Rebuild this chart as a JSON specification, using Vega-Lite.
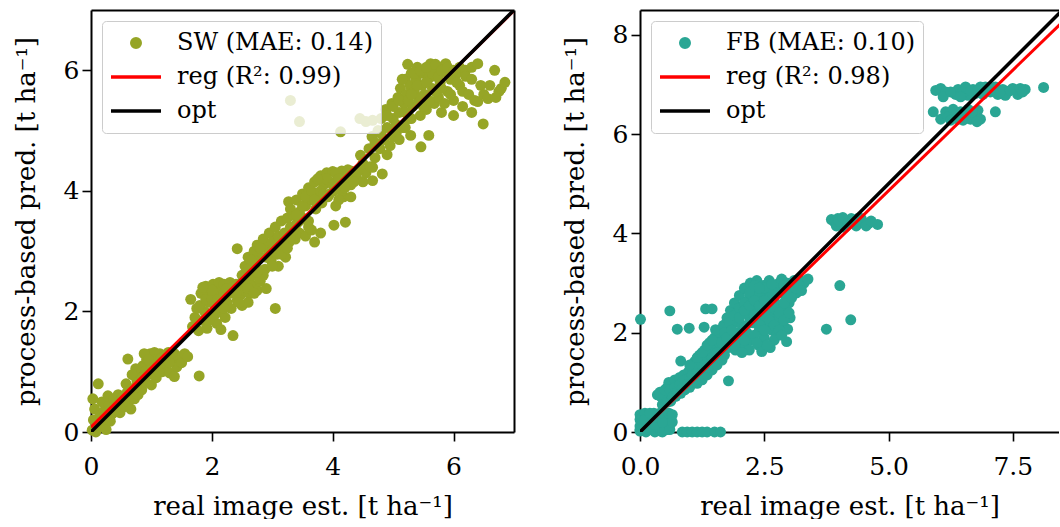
{
  "$schema": "https://vega.github.io/schema/vega-lite/v6.json",
  "padding": {"left": 13, "top": 10, "right": 0, "bottom": 0},
  "background": "white",
  "config": {
    "font": "DejaVu Serif",
    "view": {"stroke": null},
    "axis": {"grid": false, "domainColor": "black", "domainWidth": 2, "tickColor": "black", "tickWidth": 1.6, "tickSize": 9, "labelColor": "black", "labelFontSize": 25, "labelFont": "DejaVu Serif", "titleColor": "black", "titleFontSize": 26, "titleFont": "DejaVu Serif", "titleFontWeight": "normal", "labelFlush": false, "labelOverlap": false},
    "axisX": {"labelPadding": 13, "titlePadding": 14},
    "axisY": {"labelPadding": 3, "titlePadding": 24},
    "legend": {"orient": "top-left", "offset": 11, "title": null, "symbolType": "stroke", "symbolSize": 2500, "symbolStrokeWidth": 3.5, "labelFont": "DejaVu Serif", "labelFontSize": 24, "labelColor": "black", "labelLimit": 400, "labelOffset": 14, "padding": 7, "rowPadding": 4, "clipHeight": 30, "strokeColor": "#cccccc", "fillColor": "rgba(255,255,255,0.8)", "cornerRadius": 4}
  },
  "datasets": {
    "sw": [
      {"x":0.02,"y":0.03},{"x":0.04,"y":0.2},{"x":0.06,"y":0.38},{"x":0.03,"y":0.55},{"x":0.12,"y":0.8},{"x":0.1,"y":0.1},{"x":0.15,"y":0.28},{"x":0.2,"y":0.12},{"x":0.25,"y":0.04},{"x":0.22,"y":0.35},{"x":0.18,"y":0.5},{"x":0.3,"y":0.45},{"x":0.28,"y":0.6},{"x":0.35,"y":0.3},{"x":0.38,"y":0.55},{"x":0.42,"y":0.42},{"x":0.45,"y":0.62},{"x":0.5,"y":0.5},{"x":0.32,"y":0.18},{"x":0.08,"y":0.0},
      {"x":0.48,"y":0.32},{"x":0.52,"y":0.58},{"x":0.55,"y":0.42},{"x":0.6,"y":0.66},{"x":0.62,"y":0.5},{"x":0.66,"y":0.38},{"x":0.7,"y":0.72},{"x":0.72,"y":0.55},{"x":0.76,"y":0.85},{"x":0.78,"y":0.62},{"x":0.82,"y":0.95},{"x":0.84,"y":0.7},{"x":0.86,"y":1.1},{"x":0.9,"y":0.82},{"x":0.92,"y":1.2},{"x":0.95,"y":0.95},{"x":0.98,"y":1.3},{"x":1.0,"y":0.78},{"x":1.02,"y":1.05},{"x":1.05,"y":1.32},{"x":1.08,"y":0.9},{"x":1.1,"y":1.18},{"x":1.14,"y":1.3},{"x":1.18,"y":1.0},{"x":1.2,"y":1.25},{"x":1.24,"y":1.12},{"x":1.28,"y":1.32},{"x":1.3,"y":0.98},{"x":1.34,"y":1.2},{"x":1.38,"y":1.3},{"x":1.42,"y":1.08},{"x":1.45,"y":1.25},{"x":1.5,"y":1.15},{"x":1.55,"y":1.3},{"x":1.38,"y":0.92},{"x":0.61,"y":1.21},{"x":0.74,"y":1.05},{"x":0.68,"y":0.95},{"x":1.6,"y":1.25},{"x":1.79,"y":0.93},{"x":0.88,"y":1.3},{"x":1.12,"y":1.0},{"x":0.58,"y":0.8},
      {"x":0.65,"y":0.7},{"x":0.8,"y":0.85},{"x":0.9,"y":1.0},{"x":1.0,"y":1.1},{"x":1.1,"y":1.1},{"x":1.2,"y":1.15},{"x":1.3,"y":1.15},{"x":1.05,"y":1.2},{"x":1.15,"y":1.22},{"x":1.25,"y":1.28},{"x":1.35,"y":1.32},{"x":0.75,"y":0.75},{"x":0.85,"y":0.9},{"x":0.95,"y":1.2},
      {"x":1.65,"y":2.2},{"x":1.68,"y":1.75},{"x":1.72,"y":1.9},{"x":1.75,"y":2.05},{"x":1.78,"y":1.68},{"x":1.82,"y":2.3},{"x":1.85,"y":1.85},{"x":1.88,"y":2.0},{"x":1.9,"y":2.42},{"x":1.92,"y":1.72},{"x":1.95,"y":2.15},{"x":1.98,"y":2.3},{"x":2.0,"y":1.95},{"x":2.02,"y":2.45},{"x":2.05,"y":2.1},{"x":2.08,"y":1.8},{"x":2.1,"y":2.35},{"x":2.12,"y":2.48},{"x":2.15,"y":2.0},{"x":2.18,"y":2.25},{"x":2.2,"y":2.45},{"x":2.22,"y":1.9},{"x":2.25,"y":2.15},{"x":2.28,"y":2.38},{"x":2.3,"y":2.48},{"x":2.32,"y":2.05},{"x":2.35,"y":1.6},{"x":2.38,"y":2.3},{"x":2.4,"y":2.45},{"x":2.42,"y":2.18},{"x":2.45,"y":2.4},{"x":2.48,"y":2.28},{"x":2.5,"y":2.48},{"x":2.55,"y":2.35},{"x":2.58,"y":2.45},{"x":2.62,"y":2.3},{"x":2.65,"y":2.45},{"x":2.7,"y":2.4},{"x":2.75,"y":2.35},{"x":2.8,"y":2.5},{"x":2.9,"y":2.38},{"x":3.05,"y":2.05},{"x":2.15,"y":1.7},{"x":2.5,"y":2.1},{"x":2.6,"y":2.15},
      {"x":1.8,"y":2.1},{"x":1.9,"y":2.2},{"x":2.0,"y":2.2},{"x":2.1,"y":2.2},{"x":2.2,"y":2.3},{"x":2.3,"y":2.3},{"x":2.4,"y":2.3},{"x":2.0,"y":2.35},{"x":2.1,"y":2.05},{"x":2.25,"y":2.38},{"x":2.35,"y":2.4},{"x":2.45,"y":2.15},{"x":1.95,"y":1.85},{"x":2.05,"y":1.95},{"x":2.2,"y":2.05},{"x":1.85,"y":2.4},{"x":2.6,"y":2.38},{"x":2.7,"y":2.3},
      {"x":2.42,"y":3.04},{"x":2.5,"y":2.6},{"x":2.55,"y":2.75},{"x":2.6,"y":2.9},{"x":2.65,"y":2.6},{"x":2.7,"y":3.0},{"x":2.72,"y":2.75},{"x":2.75,"y":3.1},{"x":2.78,"y":2.55},{"x":2.8,"y":2.9},{"x":2.85,"y":3.2},{"x":2.88,"y":2.7},{"x":2.9,"y":3.05},{"x":2.95,"y":3.3},{"x":2.98,"y":2.85},{"x":3.0,"y":3.15},{"x":3.05,"y":3.4},{"x":3.08,"y":2.95},{"x":3.1,"y":3.25},{"x":3.15,"y":3.5},{"x":3.18,"y":3.05},{"x":3.2,"y":3.3},{"x":3.22,"y":2.9},{"x":3.25,"y":3.55},{"x":3.28,"y":3.15},{"x":3.3,"y":3.4},{"x":3.35,"y":3.6},{"x":3.38,"y":3.2},{"x":3.4,"y":3.45},{"x":3.45,"y":3.3},{"x":3.5,"y":3.55},{"x":3.55,"y":3.25},{"x":3.6,"y":3.5},{"x":3.65,"y":3.35},{"x":3.7,"y":3.15},{"x":3.8,"y":3.3},{"x":3.27,"y":3.82},{"x":3.1,"y":2.75},
      {"x":2.6,"y":2.7},{"x":2.7,"y":2.85},{"x":2.8,"y":3.05},{"x":2.9,"y":2.9},{"x":3.0,"y":3.0},{"x":3.1,"y":3.1},{"x":3.2,"y":3.2},{"x":3.3,"y":3.25},{"x":2.85,"y":2.6},{"x":3.0,"y":2.75},{"x":3.15,"y":2.95},{"x":3.25,"y":3.05},{"x":3.35,"y":3.35},{"x":3.45,"y":3.5},{"x":2.65,"y":2.85},{"x":2.75,"y":2.65},
      {"x":3.3,"y":3.7},{"x":3.4,"y":3.85},{"x":3.45,"y":3.65},{"x":3.5,"y":3.95},{"x":3.55,"y":3.75},{"x":3.6,"y":4.05},{"x":3.65,"y":3.85},{"x":3.7,"y":4.15},{"x":3.72,"y":3.7},{"x":3.75,"y":3.95},{"x":3.8,"y":4.25},{"x":3.82,"y":3.8},{"x":3.85,"y":4.1},{"x":3.9,"y":4.3},{"x":3.92,"y":3.9},{"x":3.95,"y":4.15},{"x":4.0,"y":4.32},{"x":4.02,"y":4.0},{"x":4.05,"y":3.75},{"x":4.08,"y":4.25},{"x":4.1,"y":4.05},{"x":4.15,"y":4.33},{"x":4.18,"y":3.9},{"x":4.2,"y":4.2},{"x":4.25,"y":4.35},{"x":4.3,"y":4.1},{"x":4.35,"y":4.3},{"x":4.4,"y":4.2},{"x":4.45,"y":4.35},{"x":4.5,"y":4.15},{"x":4.02,"y":3.43},{"x":4.21,"y":3.48},{"x":4.3,"y":3.9},{"x":4.55,"y":4.3},{"x":3.6,"y":3.4},
      {"x":3.4,"y":3.6},{"x":3.5,"y":3.75},{"x":3.55,"y":3.9},{"x":3.65,"y":4.0},{"x":3.7,"y":3.85},{"x":3.8,"y":4.0},{"x":3.9,"y":4.2},{"x":4.0,"y":4.1},{"x":4.05,"y":4.3},{"x":4.1,"y":4.2},{"x":4.15,"y":4.0},{"x":4.25,"y":4.2},{"x":4.3,"y":4.33},{"x":4.35,"y":4.15},{"x":4.4,"y":4.32},{"x":3.85,"y":3.95},{"x":3.95,"y":3.95},{"x":4.1,"y":3.85},{"x":4.2,"y":4.05},{"x":3.75,"y":4.2},
      {"x":4.46,"y":4.59},{"x":4.5,"y":4.45},{"x":4.6,"y":4.7},{"x":4.62,"y":4.4},{"x":4.66,"y":4.39},{"x":4.82,"y":4.28},{"x":4.66,"y":4.17},{"x":4.65,"y":4.9},{"x":4.7,"y":4.55},{"x":4.75,"y":5.0},{"x":4.78,"y":4.7},{"x":4.8,"y":5.2},{"x":4.85,"y":4.85},{"x":4.88,"y":5.35},{"x":4.9,"y":5.05},{"x":4.95,"y":4.75},{"x":4.98,"y":5.45},{"x":5.0,"y":5.2},{"x":5.05,"y":4.95},{"x":5.08,"y":5.55},{"x":5.1,"y":5.3},{"x":5.12,"y":5.7},{"x":5.15,"y":5.05},{"x":5.18,"y":5.45},{"x":5.2,"y":5.85},{"x":5.22,"y":5.6},{"x":5.24,"y":6.1},{"x":5.25,"y":5.2},{"x":5.28,"y":5.75},{"x":5.3,"y":5.95},{"x":5.32,"y":5.4},{"x":5.35,"y":5.65},{"x":5.38,"y":5.85},{"x":5.4,"y":6.05},{"x":5.42,"y":5.5},{"x":5.45,"y":5.25},{"x":5.46,"y":4.73},{"x":5.48,"y":5.75},{"x":5.5,"y":5.95},{"x":5.52,"y":5.6},{"x":5.55,"y":5.35},{"x":5.58,"y":5.85},{"x":5.59,"y":4.92},{"x":5.29,"y":4.92},{"x":5.6,"y":6.05},{"x":5.62,"y":6.11},{"x":5.65,"y":5.7},{"x":5.68,"y":5.45},{"x":5.7,"y":5.9},{"x":5.72,"y":6.0},{"x":5.75,"y":5.55},{"x":5.78,"y":5.8},{"x":5.8,"y":5.3},{"x":5.85,"y":6.08},{"x":5.87,"y":6.11},{"x":5.9,"y":5.65},{"x":5.95,"y":5.85},{"x":6.0,"y":5.5},{"x":6.05,"y":5.95},{"x":6.1,"y":5.75},
      {"x":4.7,"y":4.8},{"x":4.8,"y":4.95},{"x":4.9,"y":5.25},{"x":5.0,"y":5.4},{"x":5.05,"y":5.1},{"x":5.1,"y":5.5},{"x":5.15,"y":5.85},{"x":5.2,"y":5.3},{"x":5.25,"y":5.5},{"x":5.3,"y":5.2},{"x":5.35,"y":5.95},{"x":5.4,"y":5.75},{"x":5.45,"y":5.55},{"x":5.5,"y":5.4},{"x":5.55,"y":5.8},{"x":5.6,"y":5.5},{"x":5.65,"y":5.95},{"x":5.7,"y":5.65},{"x":5.75,"y":5.9},{"x":5.8,"y":5.7},{"x":5.85,"y":5.45},{"x":5.9,"y":5.95},{"x":5.95,"y":5.6},{"x":5.0,"y":4.9},{"x":4.9,"y":4.6},{"x":5.1,"y":4.85},{"x":5.2,"y":5.05},{"x":5.3,"y":5.6},{"x":5.45,"y":6.0},{"x":5.55,"y":6.05},{"x":5.7,"y":6.1},{"x":5.8,"y":6.0},{"x":5.9,"y":6.05},{"x":6.0,"y":6.0},{"x":6.1,"y":6.05},{"x":6.2,"y":6.0},{"x":6.3,"y":6.05},{"x":6.05,"y":5.8},{"x":6.15,"y":5.65},
      {"x":3.3,"y":5.5},{"x":3.45,"y":5.15},{"x":4.45,"y":5.2},{"x":4.55,"y":5.15},{"x":4.66,"y":5.17},{"x":4.13,"y":4.98},
      {"x":6.15,"y":5.4},{"x":6.2,"y":5.9},{"x":6.25,"y":5.6},{"x":6.3,"y":5.85},{"x":6.35,"y":5.5},{"x":6.4,"y":6.11},{"x":6.4,"y":5.48},{"x":6.45,"y":5.75},{"x":6.49,"y":5.11},{"x":6.5,"y":5.6},{"x":6.57,"y":5.53},{"x":6.6,"y":5.75},{"x":6.68,"y":6.0},{"x":6.7,"y":5.55},{"x":6.75,"y":5.65},{"x":6.79,"y":5.7},{"x":6.85,"y":5.8},{"x":6.3,"y":5.3},{"x":6.0,"y":5.25}
    ],
    "fb": [
      {"x":0,"y":0.02},{"x":0,"y":0.12},{"x":0,"y":0.25},{"x":0,"y":0.35},{"x":0.05,"y":0.05},{"x":0.06,"y":0.3},{"x":0.1,"y":0.15},{"x":0.12,"y":0.0},{"x":0.15,"y":0.35},{"x":0.18,"y":0.22},{"x":0.2,"y":0.05},{"x":0.22,"y":0.32},{"x":0.25,"y":0.12},{"x":0.28,"y":0.38},{"x":0.3,"y":0.0},{"x":0.32,"y":0.25},{"x":0.35,"y":0.1},{"x":0.38,"y":0.35},{"x":0.4,"y":0.18},{"x":0.42,"y":0.02},{"x":0.45,"y":0.3},{"x":0.48,"y":0.12},{"x":0.5,"y":0.38},{"x":0.52,"y":0.22},{"x":0.55,"y":0.05},{"x":0.58,"y":0.32},{"x":0.6,"y":0.15},{"x":0.62,"y":0.28},{"x":0.35,"y":0.32},{"x":0.1,"y":0.38},{"x":0.45,"y":0.0},{"x":0.25,"y":0.25},
      {"x":0.05,"y":0.2},{"x":0.15,"y":0.1},{"x":0.2,"y":0.3},{"x":0.3,"y":0.15},{"x":0.4,"y":0.3},{"x":0.5,"y":0.05},{"x":0.55,"y":0.3},{"x":0.6,"y":0.05},{"x":0.65,"y":0.2},{"x":0.0,"y":0.05},{"x":0.1,"y":0.25},{"x":0.3,"y":0.3},{"x":0.45,"y":0.2},{"x":0.2,"y":0.38},{"x":0.4,"y":0.38},{"x":0.58,"y":0.38},{"x":0.65,"y":0.35},
      {"x":0.85,"y":0.0},{"x":0.95,"y":0.0},{"x":1.05,"y":0.0},{"x":1.15,"y":0.0},{"x":1.25,"y":0.0},{"x":1.35,"y":0.0},{"x":1.5,"y":0.0},{"x":1.62,"y":0.0},{"x":0.01,"y":2.27},
      {"x":0.35,"y":0.75},{"x":0.42,"y":0.72},{"x":0.5,"y":0.68},{"x":0.55,"y":0.9},{"x":0.58,"y":1.0},{"x":0.62,"y":0.62},{"x":0.65,"y":0.8},{"x":0.7,"y":1.05},{"x":0.72,"y":0.72},{"x":0.75,"y":0.92},{"x":0.8,"y":1.1},{"x":0.82,"y":0.78},{"x":0.85,"y":1.0},{"x":0.88,"y":1.15},{"x":0.9,"y":0.85},{"x":0.95,"y":1.05},{"x":0.98,"y":1.22},{"x":1.0,"y":0.9},{"x":1.05,"y":1.3},{"x":1.08,"y":1.0},{"x":1.1,"y":1.42},{"x":1.12,"y":1.12},{"x":1.15,"y":0.98},{"x":1.18,"y":1.3},{"x":1.2,"y":1.55},{"x":1.22,"y":1.2},{"x":1.25,"y":1.05},{"x":1.28,"y":1.4},{"x":1.3,"y":1.65},{"x":1.32,"y":1.3},{"x":1.35,"y":1.15},{"x":1.38,"y":1.5},{"x":1.4,"y":1.8},{"x":1.42,"y":1.4},{"x":1.45,"y":1.25},{"x":1.48,"y":1.62},{"x":1.5,"y":1.9},{"x":1.52,"y":1.5},{"x":1.55,"y":1.35},{"x":1.58,"y":1.72},{"x":1.6,"y":2.0},{"x":1.62,"y":1.6},{"x":0.82,"y":1.43},{"x":1.78,"y":1.03},{"x":0.6,"y":2.44},{"x":0.75,"y":2.07},{"x":0.99,"y":2.09},{"x":1.32,"y":2.48},{"x":1.45,"y":2.48},{"x":1.29,"y":2.11},{"x":1.52,"y":2.06},
      {"x":0.4,"y":0.8},{"x":0.5,"y":0.85},{"x":0.6,"y":0.85},{"x":0.7,"y":0.9},{"x":0.8,"y":0.95},{"x":0.9,"y":1.05},{"x":1.0,"y":1.1},{"x":1.1,"y":1.2},{"x":1.2,"y":1.35},{"x":1.3,"y":1.45},{"x":1.4,"y":1.6},{"x":1.5,"y":1.7},{"x":1.6,"y":1.8},{"x":0.45,"y":0.55},{"x":0.55,"y":0.6},{"x":0.65,"y":0.7},{"x":0.75,"y":0.8},{"x":0.85,"y":0.88},{"x":0.95,"y":0.95},{"x":1.05,"y":1.15},{"x":1.15,"y":1.25},{"x":1.25,"y":1.35},{"x":1.35,"y":1.3},{"x":1.45,"y":1.5},{"x":1.55,"y":1.6},{"x":1.65,"y":1.45},{"x":1.7,"y":1.75},{"x":1.0,"y":1.35},{"x":1.15,"y":1.5},{"x":1.25,"y":1.6},{"x":1.35,"y":1.75},{"x":1.45,"y":1.85},
      {"x":1.65,"y":1.8},{"x":1.68,"y":2.15},{"x":1.7,"y":1.55},{"x":1.72,"y":1.95},{"x":1.75,"y":2.3},{"x":1.78,"y":1.7},{"x":1.8,"y":2.05},{"x":1.82,"y":2.45},{"x":1.85,"y":1.85},{"x":1.88,"y":2.2},{"x":1.9,"y":2.6},{"x":1.92,"y":1.65},{"x":1.95,"y":2.0},{"x":1.98,"y":2.4},{"x":2.0,"y":2.75},{"x":2.02,"y":1.8},{"x":2.05,"y":2.15},{"x":2.08,"y":2.55},{"x":2.1,"y":2.9},{"x":2.12,"y":1.7},{"x":2.15,"y":2.0},{"x":2.18,"y":2.35},{"x":2.2,"y":2.7},{"x":2.22,"y":3.0},{"x":2.25,"y":1.85},{"x":2.28,"y":2.2},{"x":2.3,"y":2.5},{"x":2.32,"y":2.85},{"x":2.35,"y":3.05},{"x":2.38,"y":1.75},{"x":2.4,"y":2.05},{"x":2.42,"y":2.35},{"x":2.45,"y":2.65},{"x":2.48,"y":2.95},{"x":2.5,"y":1.9},{"x":2.52,"y":2.2},{"x":2.55,"y":2.5},{"x":2.58,"y":2.8},{"x":2.6,"y":3.05},{"x":2.62,"y":1.7},{"x":2.65,"y":2.05},{"x":2.68,"y":2.35},{"x":2.7,"y":2.65},{"x":2.72,"y":2.95},{"x":2.75,"y":1.95},{"x":2.78,"y":2.25},{"x":2.8,"y":2.55},{"x":2.82,"y":2.85},{"x":2.85,"y":3.08},{"x":2.88,"y":2.15},{"x":2.9,"y":2.45},{"x":2.92,"y":2.75},{"x":2.95,"y":3.0},{"x":2.95,"y":1.82},{"x":2.97,"y":2.07},{"x":3.0,"y":2.6},{"x":3.05,"y":2.9},{"x":3.1,"y":3.05},{"x":3.15,"y":2.8},{"x":3.2,"y":3.08},{"x":3.3,"y":3.0},{"x":3.38,"y":3.08},{"x":2.2,"y":1.65},{"x":2.45,"y":1.62},{"x":3.02,"y":2.3},{"x":2.05,"y":1.6},
      {"x":1.7,"y":2.0},{"x":1.8,"y":2.2},{"x":1.9,"y":2.35},{"x":2.0,"y":2.5},{"x":2.1,"y":2.6},{"x":2.2,"y":2.8},{"x":2.3,"y":2.95},{"x":2.4,"y":2.75},{"x":2.5,"y":2.9},{"x":2.6,"y":2.7},{"x":2.7,"y":2.85},{"x":2.8,"y":3.0},{"x":2.9,"y":2.95},{"x":3.0,"y":2.95},{"x":3.1,"y":2.9},{"x":3.2,"y":2.95},{"x":2.0,"y":2.3},{"x":2.1,"y":2.45},{"x":2.2,"y":2.55},{"x":2.3,"y":2.65},{"x":2.4,"y":2.55},{"x":2.5,"y":2.65},{"x":2.6,"y":2.45},{"x":2.7,"y":2.5},{"x":2.8,"y":2.4},{"x":2.9,"y":2.6},{"x":2.0,"y":1.9},{"x":2.1,"y":2.1},{"x":2.2,"y":2.2},{"x":2.3,"y":2.35},{"x":2.4,"y":2.2},{"x":2.5,"y":2.35},{"x":2.6,"y":2.25},{"x":2.7,"y":2.15},{"x":2.8,"y":2.05},{"x":2.9,"y":2.25},{"x":1.9,"y":1.75},{"x":2.1,"y":1.85},{"x":2.3,"y":1.95},{"x":2.5,"y":2.05},{"x":2.7,"y":1.85},{"x":2.85,"y":1.95},{"x":1.75,"y":1.9},{"x":1.85,"y":2.05},{"x":2.4,"y":2.9},{"x":2.65,"y":2.98},{"x":2.95,"y":2.8},{"x":3.0,"y":2.4},{"x":3.25,"y":2.85},{"x":2.55,"y":1.75},{"x":2.35,"y":1.8},
      {"x":4.02,"y":2.95},{"x":3.75,"y":2.07},{"x":4.24,"y":2.26},{"x":3.05,"y":2.7},
      {"x":3.85,"y":4.28},{"x":3.92,"y":4.22},{"x":3.98,"y":4.3},{"x":4.05,"y":4.18},{"x":4.1,"y":4.28},{"x":4.15,"y":4.15},{"x":4.2,"y":4.25},{"x":4.25,"y":4.3},{"x":4.3,"y":4.2},{"x":4.35,"y":4.15},{"x":4.4,"y":4.25},{"x":4.5,"y":4.22},{"x":4.6,"y":4.2},{"x":4.78,"y":4.18},{"x":4.12,"y":4.12},{"x":4.45,"y":4.3},{"x":3.95,"y":4.15},{"x":4.0,"y":4.25},{"x":4.08,"y":4.32},{"x":4.18,"y":4.2},{"x":4.28,"y":4.25},{"x":4.38,"y":4.3},{"x":4.55,"y":4.15},{"x":4.65,"y":4.25},
      {"x":5.95,"y":6.88},{"x":6.05,"y":6.92},{"x":6.15,"y":6.85},{"x":6.35,"y":6.8},{"x":6.4,"y":6.9},{"x":6.5,"y":6.85},{"x":6.55,"y":6.95},{"x":6.6,"y":6.78},{"x":6.7,"y":6.9},{"x":6.75,"y":6.82},{"x":6.85,"y":6.95},{"x":6.9,"y":6.8},{"x":7.0,"y":6.9},{"x":7.05,"y":6.85},{"x":7.15,"y":6.95},{"x":7.2,"y":6.8},{"x":7.3,"y":6.9},{"x":7.4,"y":6.85},{"x":7.5,"y":6.92},{"x":7.6,"y":6.8},{"x":7.75,"y":6.9},{"x":8.12,"y":6.94},{"x":6.45,"y":6.75},{"x":6.95,"y":6.95},{"x":7.35,"y":6.78},{"x":6.1,"y":6.75},{"x":6.25,"y":6.85},{"x":6.65,"y":6.88},{"x":6.8,"y":6.88},{"x":7.1,"y":6.9},{"x":7.25,"y":6.85},{"x":7.45,"y":6.88},{"x":7.65,"y":6.92},{"x":7.7,"y":6.85},
      {"x":5.9,"y":6.45},{"x":6.05,"y":6.3},{"x":6.15,"y":6.45},{"x":6.2,"y":6.35},{"x":6.3,"y":6.5},{"x":6.4,"y":6.3},{"x":6.45,"y":6.45},{"x":6.5,"y":6.28},{"x":6.55,"y":6.4},{"x":6.6,"y":6.5},{"x":6.65,"y":6.3},{"x":6.7,"y":6.42},{"x":6.75,"y":6.35},{"x":6.8,"y":6.48},{"x":6.85,"y":6.3},{"x":7.15,"y":6.45},{"x":6.35,"y":6.38},{"x":6.58,"y":6.32},{"x":6.68,"y":6.45},{"x":6.78,"y":6.25},{"x":6.25,"y":6.28}
    ]
  },
  "hconcat": [
    {
      "width": 423,
      "height": 422,
      "layer": [
        {
          "data": {"name": "sw"},
          "mark": {"type": "circle", "size": 120, "opacity": 1},
          "encoding": {
            "x": {"field": "x", "type": "quantitative", "scale": {"domain": [0, 7], "nice": false}, "axis": {"orient": "bottom", "values": [0, 2, 4, 6], "title": "real image est. [t ha⁻¹]"}},
            "y": {"field": "y", "type": "quantitative", "scale": {"domain": [0, 7], "nice": false}, "axis": {"orient": "left", "values": [0, 2, 4, 6], "title": "process-based pred. [t ha⁻¹]"}},
            "color": {
              "datum": "SW (MAE: 0.14)", "type": "nominal",
              "scale": {"domain": ["SW (MAE: 0.14)", "reg (R²: 0.99)", "opt"], "range": ["#96a526", "#ff0000", "#000000"]},
              "legend": {
                "encode": {"symbols": {"update": {
                  "shape": {"signal": "indexof(datum.value, 'MAE') >= 0 ? 'M -0.17 0 A 0.17 0.17 0 1 0 0.17 0 A 0.17 0.17 0 1 0 -0.17 0 Z' : 'stroke'"},
                  "fill": {"signal": "indexof(datum.value, 'MAE') >= 0 ? '#96a526' : 'transparent'"},
                  "stroke": {"signal": "indexof(datum.value, 'MAE') >= 0 ? 'transparent' : (datum.value == 'opt' ? '#000000' : '#ff0000')"},
                  "opacity": {"value": 1}
                }}}
              }
            }
          }
        },
        {
          "data": {"values": [{"x": 0, "y": 0.08}, {"x": 7, "y": 6.99}]},
          "mark": {"type": "line", "strokeWidth": 3, "clip": true},
          "encoding": {
            "x": {"field": "x", "type": "quantitative", "scale": {"domain": [0, 7], "nice": false}, "axis": {"orient": "top", "labels": false, "ticks": false, "title": null}},
            "y": {"field": "y", "type": "quantitative", "scale": {"domain": [0, 7], "nice": false}, "axis": {"orient": "right", "labels": false, "ticks": false, "title": null}},
            "color": {
              "datum": "reg (R²: 0.99)", "type": "nominal",
              "legend": {
                "encode": {"symbols": {"update": {
                  "shape": {"signal": "indexof(datum.value, 'MAE') >= 0 ? 'M -0.17 0 A 0.17 0.17 0 1 0 0.17 0 A 0.17 0.17 0 1 0 -0.17 0 Z' : 'stroke'"},
                  "fill": {"signal": "indexof(datum.value, 'MAE') >= 0 ? '#96a526' : 'transparent'"},
                  "stroke": {"signal": "indexof(datum.value, 'MAE') >= 0 ? 'transparent' : (datum.value == 'opt' ? '#000000' : '#ff0000')"},
                  "opacity": {"value": 1}
                }}}
              }
            }
          }
        },
        {
          "data": {"values": [{"x": 0, "y": 0}, {"x": 7, "y": 7}]},
          "mark": {"type": "line", "strokeWidth": 3.5, "clip": true},
          "encoding": {
            "x": {"field": "x", "type": "quantitative", "scale": {"domain": [0, 7], "nice": false}, "axis": null},
            "y": {"field": "y", "type": "quantitative", "scale": {"domain": [0, 7], "nice": false}, "axis": null},
            "color": {
              "datum": "opt", "type": "nominal",
              "legend": {
                "encode": {"symbols": {"update": {
                  "shape": {"signal": "indexof(datum.value, 'MAE') >= 0 ? 'M -0.17 0 A 0.17 0.17 0 1 0 0.17 0 A 0.17 0.17 0 1 0 -0.17 0 Z' : 'stroke'"},
                  "fill": {"signal": "indexof(datum.value, 'MAE') >= 0 ? '#96a526' : 'transparent'"},
                  "stroke": {"signal": "indexof(datum.value, 'MAE') >= 0 ? 'transparent' : (datum.value == 'opt' ? '#000000' : '#ff0000')"},
                  "opacity": {"value": 1}
                }}}
              }
            }
          }
        }
      ],
      "resolve": {"axis": {"x": "independent", "y": "independent"}}
    },
    {
      "width": 419,
      "height": 422,
      "layer": [
        {
          "data": {"name": "fb"},
          "mark": {"type": "circle", "size": 120, "opacity": 1},
          "encoding": {
            "x": {"field": "x", "type": "quantitative", "scale": {"domain": [0, 8.43], "nice": false}, "axis": {"orient": "bottom", "values": [0, 2.5, 5, 7.5], "format": ".1f", "title": "real image est. [t ha⁻¹]"}},
            "y": {"field": "y", "type": "quantitative", "scale": {"domain": [0, 8.5], "nice": false}, "axis": {"orient": "left", "values": [0, 2, 4, 6, 8], "title": "process-based pred. [t ha⁻¹]"}},
            "color": {
              "datum": "FB (MAE: 0.10)", "type": "nominal",
              "scale": {"domain": ["FB (MAE: 0.10)", "reg (R²: 0.98)", "opt"], "range": ["#2aa694", "#ff0000", "#000000"]},
              "legend": {
                "encode": {"symbols": {"update": {
                  "shape": {"signal": "indexof(datum.value, 'MAE') >= 0 ? 'M -0.17 0 A 0.17 0.17 0 1 0 0.17 0 A 0.17 0.17 0 1 0 -0.17 0 Z' : 'stroke'"},
                  "fill": {"signal": "indexof(datum.value, 'MAE') >= 0 ? '#2aa694' : 'transparent'"},
                  "stroke": {"signal": "indexof(datum.value, 'MAE') >= 0 ? 'transparent' : (datum.value == 'opt' ? '#000000' : '#ff0000')"},
                  "opacity": {"value": 1}
                }}}
              }
            }
          }
        },
        {
          "data": {"values": [{"x": 0, "y": 0.0}, {"x": 8.5, "y": 8.26}]},
          "mark": {"type": "line", "strokeWidth": 3, "clip": true},
          "encoding": {
            "x": {"field": "x", "type": "quantitative", "scale": {"domain": [0, 8.43], "nice": false}, "axis": {"orient": "top", "labels": false, "ticks": false, "title": null}},
            "y": {"field": "y", "type": "quantitative", "scale": {"domain": [0, 8.5], "nice": false}, "axis": null},
            "color": {
              "datum": "reg (R²: 0.98)", "type": "nominal",
              "legend": {
                "encode": {"symbols": {"update": {
                  "shape": {"signal": "indexof(datum.value, 'MAE') >= 0 ? 'M -0.17 0 A 0.17 0.17 0 1 0 0.17 0 A 0.17 0.17 0 1 0 -0.17 0 Z' : 'stroke'"},
                  "fill": {"signal": "indexof(datum.value, 'MAE') >= 0 ? '#2aa694' : 'transparent'"},
                  "stroke": {"signal": "indexof(datum.value, 'MAE') >= 0 ? 'transparent' : (datum.value == 'opt' ? '#000000' : '#ff0000')"},
                  "opacity": {"value": 1}
                }}}
              }
            }
          }
        },
        {
          "data": {"values": [{"x": 0, "y": 0}, {"x": 8.5, "y": 8.5}]},
          "mark": {"type": "line", "strokeWidth": 3.5, "clip": true},
          "encoding": {
            "x": {"field": "x", "type": "quantitative", "scale": {"domain": [0, 8.43], "nice": false}, "axis": null},
            "y": {"field": "y", "type": "quantitative", "scale": {"domain": [0, 8.5], "nice": false}, "axis": null},
            "color": {
              "datum": "opt", "type": "nominal",
              "legend": {
                "encode": {"symbols": {"update": {
                  "shape": {"signal": "indexof(datum.value, 'MAE') >= 0 ? 'M -0.17 0 A 0.17 0.17 0 1 0 0.17 0 A 0.17 0.17 0 1 0 -0.17 0 Z' : 'stroke'"},
                  "fill": {"signal": "indexof(datum.value, 'MAE') >= 0 ? '#2aa694' : 'transparent'"},
                  "stroke": {"signal": "indexof(datum.value, 'MAE') >= 0 ? 'transparent' : (datum.value == 'opt' ? '#000000' : '#ff0000')"},
                  "opacity": {"value": 1}
                }}}
              }
            }
          }
        }
      ],
      "resolve": {"axis": {"x": "independent", "y": "independent"}}
    }
  ],
  "spacing": 48,
  "resolve": {"scale": {"color": "independent"}, "legend": {"color": "independent"}}
}
